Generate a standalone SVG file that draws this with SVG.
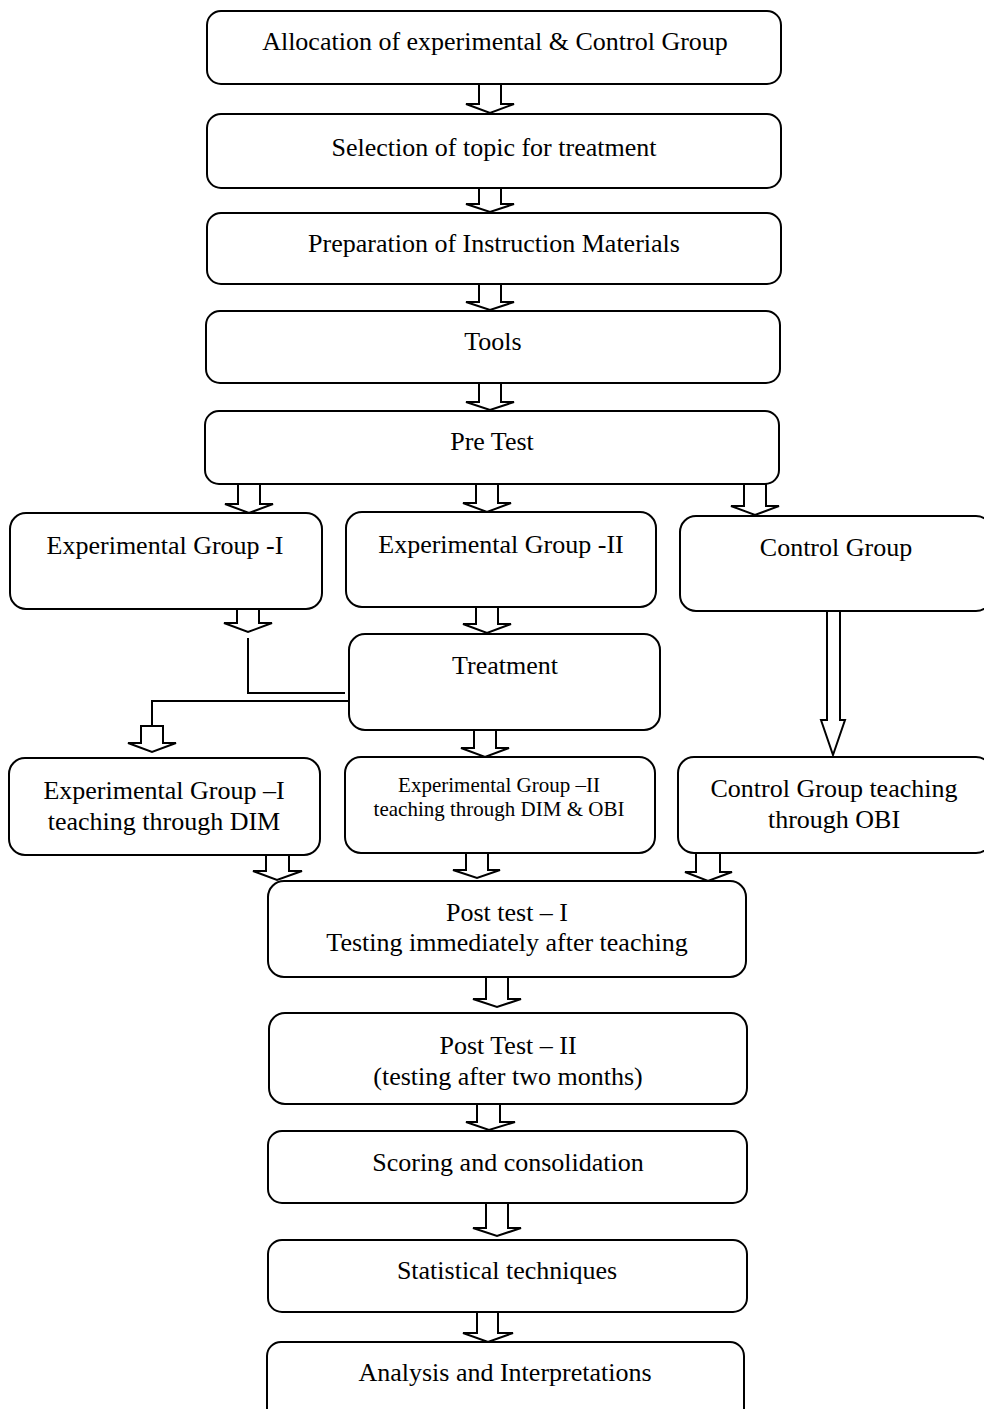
<svg xmlns="http://www.w3.org/2000/svg" width="984" height="1409" viewBox="0 0 984 1409">
<style>
.box{fill:#fff;stroke:#000;stroke-width:2}
.arr{fill:#fff;stroke:#000;stroke-width:2;stroke-linejoin:miter}
.ln{fill:none;stroke:#000;stroke-width:2}
text{font-family:"Liberation Serif","Times New Roman",serif;font-size:26px;fill:#000;text-anchor:middle}
.sm{font-size:21px}
</style>
<rect width="984" height="1409" fill="#fff"/>
<g id="connectors">
<path class="arr" d="M479,84 L501,84 L501,104 L514,104 L490,113 L466,104 L479,104 Z"/>
<path class="arr" d="M479,188 L501,188 L501,204 L514,204 L490,212 L466,204 L479,204 Z"/>
<path class="arr" d="M479,284 L501,284 L501,302 L514,302 L490,310 L466,302 L479,302 Z"/>
<path class="arr" d="M479,383 L501,383 L501,402 L514,402 L490,410 L466,402 L479,402 Z"/>
<path class="arr" d="M238,484 L260,484 L260,504 L273,504 L249,513 L225,504 L238,504 Z"/>
<path class="arr" d="M476,484 L498,484 L498,503 L511,503 L487,512 L463,503 L476,503 Z"/>
<path class="arr" d="M744,484 L766,484 L766,506 L779,506 L755,515 L731,506 L744,506 Z"/>
<path class="arr" d="M237,609 L259,609 L259,623 L272,623 L248,632 L224,623 L237,623 Z"/>
<path class="arr" d="M476,607 L498,607 L498,624 L511,624 L487,633 L463,624 L476,624 Z"/>
<path class="arr" d="M474,730 L496,730 L496,748 L509,748 L485,757 L461,748 L474,748 Z"/>
<path class="arr" d="M141,726 L163,726 L163,743 L176,743 L152,752 L128,743 L141,743 Z"/>
<path class="arr" d="M827,611 L840,611 L840,720 L845,720 L833,755 L821,720 L827,720 Z"/>
<path class="arr" d="M266,855 L289,855 L289,871 L302,871 L277,880 L253,871 L266,871 Z"/>
<path class="arr" d="M466,853 L488,853 L488,870 L500,870 L477,878 L453,870 L466,870 Z"/>
<path class="arr" d="M696,853 L720,853 L720,872 L732,872 L708,881 L685,872 L696,872 Z"/>
<path class="arr" d="M486,977 L508,977 L508,999 L521,999 L497,1007 L473,999 L486,999 Z"/>
<path class="arr" d="M477,1104 L500,1104 L500,1122 L515,1122 L489,1130 L466,1122 L477,1122 Z"/>
<path class="arr" d="M486,1203 L508,1203 L508,1228 L521,1228 L497,1236 L473,1228 L486,1228 Z"/>
<path class="arr" d="M477,1312 L498,1312 L498,1333 L513,1333 L488,1342 L463,1333 L477,1333 Z"/>
<polyline class="ln" points="248,638 248,693 345,693"/>
<polyline class="ln" points="349,701 152,701 152,726"/>
</g>
<g id="n1"><rect class="box" x="207" y="11" width="574" height="73" rx="14"/><text x="495" y="50">Allocation of experimental &amp; Control Group</text></g>
<g id="n2"><rect class="box" x="207" y="114" width="574" height="74" rx="14"/><text x="494" y="156">Selection of topic for treatment</text></g>
<g id="n3"><rect class="box" x="207" y="213" width="574" height="71" rx="14"/><text x="494" y="252">Preparation of Instruction Materials</text></g>
<g id="n4"><rect class="box" x="206" y="311" width="574" height="72" rx="14"/><text x="493" y="350">Tools</text></g>
<g id="n5"><rect class="box" x="205" y="411" width="574" height="73" rx="14"/><text x="492" y="450">Pre Test</text></g>
<g id="n6"><rect class="box" x="10" y="513" width="312" height="96" rx="16"/><text x="165" y="554">Experimental Group -I</text></g>
<g id="n7"><rect class="box" x="346" y="512" width="310" height="95" rx="16"/><text x="501" y="553">Experimental Group -II</text></g>
<g id="n8"><rect class="box" x="680" y="516" width="312" height="95" rx="16"/><text x="836" y="556">Control Group</text></g>
<g id="n9"><rect class="box" x="349" y="634" width="311" height="96" rx="16"/><text x="505" y="674">Treatment</text></g>
<g id="n10"><rect class="box" x="9" y="758" width="311" height="97" rx="16"/><text x="164" y="799">Experimental Group –I</text><text x="164" y="830">teaching through DIM</text></g>
<g id="n11"><rect class="box" x="345" y="757" width="310" height="96" rx="16"/><text class="sm" x="499" y="792">Experimental Group –II</text><text class="sm" x="499" y="816">teaching through DIM &amp; OBI</text></g>
<g id="n12"><rect class="box" x="678" y="757" width="314" height="96" rx="16"/><text x="834" y="797">Control Group teaching</text><text x="834" y="828">through OBI</text></g>
<g id="n13"><rect class="box" x="268" y="881" width="478" height="96" rx="16"/><text x="507" y="921">Post test – I</text><text x="507" y="951">Testing immediately after teaching</text></g>
<g id="n14"><rect class="box" x="269" y="1013" width="478" height="91" rx="16"/><text x="508" y="1054">Post Test – II</text><text x="508" y="1085">(testing after two months)</text></g>
<g id="n15"><rect class="box" x="268" y="1131" width="479" height="72" rx="14"/><text x="508" y="1171">Scoring and consolidation</text></g>
<g id="n16"><rect class="box" x="268" y="1240" width="479" height="72" rx="14"/><text x="507" y="1279">Statistical techniques</text></g>
<g id="n17"><rect class="box" x="267" y="1342" width="477" height="80" rx="14"/><text x="505" y="1381">Analysis and Interpretations</text></g>
</svg>
